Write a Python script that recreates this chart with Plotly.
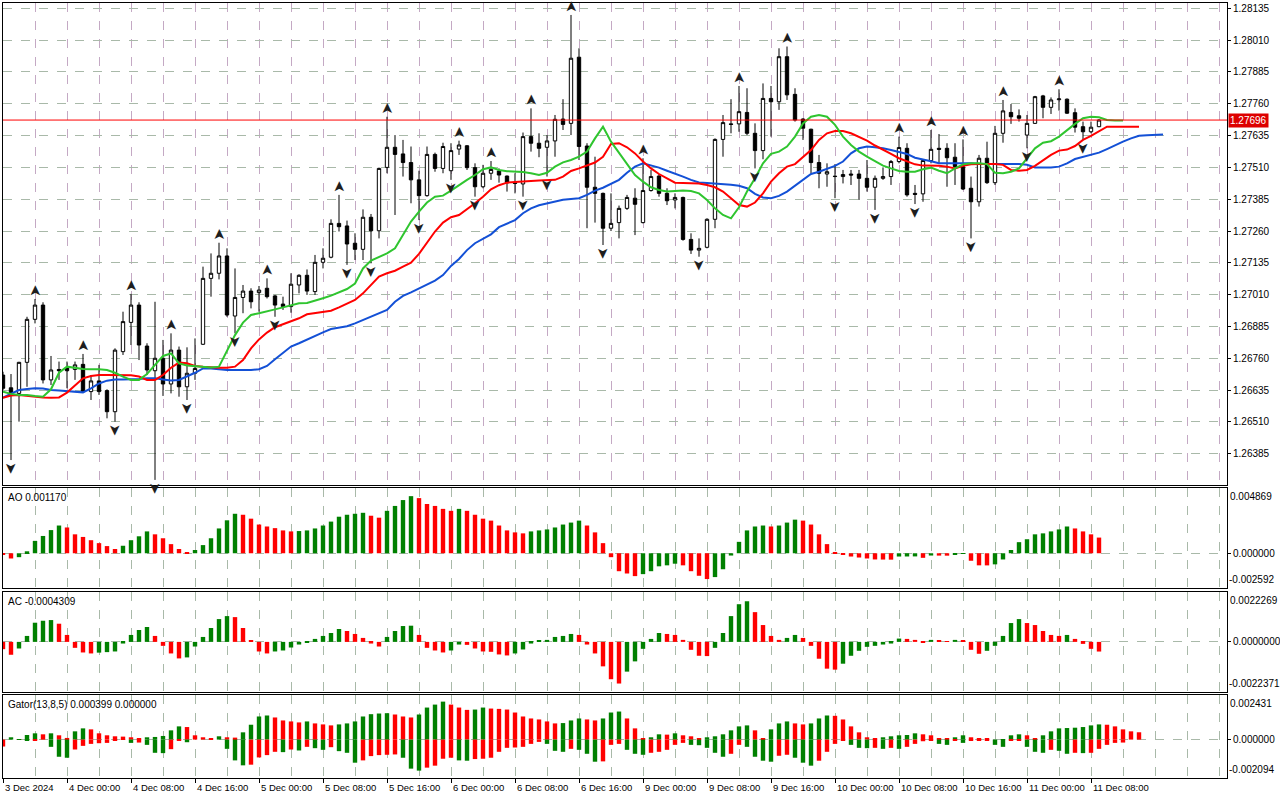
import plotly.graph_objects as go

# ---------------- data (hourly bars, GBPUSD-like) ----------------
time_labels = ["3 Dec 2024", "4 Dec 00:00", "4 Dec 08:00", "4 Dec 16:00", "5 Dec 00:00",
               "5 Dec 08:00", "5 Dec 16:00", "6 Dec 00:00", "6 Dec 08:00", "6 Dec 16:00",
               "9 Dec 00:00", "9 Dec 08:00", "9 Dec 16:00", "10 Dec 00:00", "10 Dec 08:00",
               "10 Dec 16:00", "11 Dec 00:00", "11 Dec 08:00"]
bars_per_label = 8

price_ticks = [1.28135, 1.28010, 1.27885, 1.27760, 1.27635, 1.27510, 1.27385, 1.27260,
               1.27135, 1.27010, 1.26885, 1.26760, 1.26635, 1.26510, 1.26385]
last_price = 1.27696

opens = [1.26694, 1.26644, 1.26622, 1.26744, 1.26913, 1.26969, 1.26675, 1.26716, 1.26723, 1.26716,
         1.26736, 1.26629, 1.26671, 1.26633, 1.26550, 1.26786, 1.26901, 1.26969, 1.26808, 1.26711,
         1.26760, 1.26659, 1.26792, 1.26648, 1.26701, 1.26815, 1.27074, 1.27094, 1.27162, 1.26926,
         1.26999, 1.27024, 1.27018, 1.27035, 1.27005, 1.26973, 1.26963, 1.27048, 1.27086, 1.27022,
         1.27137, 1.27157, 1.27290, 1.27280, 1.27212, 1.27188, 1.27314, 1.27261, 1.27510, 1.27589,
         1.27563, 1.27529, 1.27461, 1.27399, 1.27561, 1.27506, 1.27497, 1.27582, 1.27595, 1.27509,
         1.27434, 1.27487, 1.27496, 1.27476, 1.27450, 1.27445, 1.27631, 1.27605, 1.27589, 1.27614,
         1.27700, 1.27683, 1.27943, 1.27594, 1.27432, 1.27408, 1.27271, 1.27293, 1.27349, 1.27389,
         1.27293, 1.27419, 1.27476, 1.27408, 1.27382, 1.27392, 1.27227, 1.27185, 1.27196, 1.27306,
         1.27620, 1.27681, 1.27681, 1.27726, 1.27644, 1.27576, 1.27781, 1.27768, 1.27945, 1.27797,
         1.27700, 1.27660, 1.27529, 1.27484, 1.27474, 1.27474, 1.27484, 1.27484, 1.27467, 1.27432,
         1.27467, 1.27474, 1.27533, 1.27585, 1.27408, 1.27406, 1.27537, 1.27585, 1.27585, 1.27550,
         1.27513, 1.27428, 1.27375, 1.27546, 1.27450, 1.27644, 1.27726, 1.27713, 1.27637, 1.27683,
         1.27791, 1.27746, 1.27776, 1.27778, 1.27725, 1.27670, 1.27650, 1.27670]
highs = [1.26707, 1.26698, 1.26746, 1.26923, 1.26993, 1.26980, 1.26769, 1.26747, 1.26747, 1.26747,
         1.26777, 1.26694, 1.26734, 1.26638, 1.26799, 1.26943, 1.27013, 1.26980, 1.26819, 1.26982,
         1.26832, 1.26858, 1.26806, 1.26803, 1.26838, 1.27120, 1.27172, 1.27214, 1.27192, 1.27113,
         1.27048, 1.27035, 1.27044, 1.27074, 1.27009, 1.27002, 1.27094, 1.27090, 1.27109, 1.27166,
         1.27192, 1.27306, 1.27402, 1.27301, 1.27251, 1.27345, 1.27327, 1.27509, 1.27709, 1.27637,
         1.27618, 1.27592, 1.27497, 1.27592, 1.27568, 1.27607, 1.27605, 1.27615, 1.27598, 1.27526,
         1.27520, 1.27535, 1.27506, 1.27478, 1.27487, 1.27647, 1.27742, 1.27644, 1.27637, 1.27716,
         1.27778, 1.28109, 1.27978, 1.27605, 1.27552, 1.27411, 1.27408, 1.27360, 1.27402, 1.27428,
         1.27546, 1.27500, 1.27484, 1.27428, 1.27408, 1.27395, 1.27251, 1.27231, 1.27310, 1.27624,
         1.27716, 1.27778, 1.27830, 1.27821, 1.27683, 1.27840, 1.27830, 1.27978, 1.27985, 1.27821,
         1.27703, 1.27662, 1.27559, 1.27526, 1.27523, 1.27500, 1.27500, 1.27500, 1.27539, 1.27478,
         1.27510, 1.27539, 1.27631, 1.27605, 1.27441, 1.27539, 1.27657, 1.27641, 1.27605, 1.27605,
         1.27620, 1.27474, 1.27559, 1.27611, 1.27673, 1.27775, 1.27759, 1.27738, 1.27716, 1.27791,
         1.27795, 1.27785, 1.27817, 1.27781, 1.27742, 1.27690, 1.27690, 1.27700]
lows = [1.26635, 1.26360, 1.26511, 1.26648, 1.26897, 1.26661, 1.26655, 1.26675, 1.26642, 1.26675,
        1.26625, 1.26596, 1.26616, 1.26524, 1.26511, 1.26773, 1.26812, 1.26753, 1.26694, 1.26282,
        1.26612, 1.26622, 1.26609, 1.26596, 1.26675, 1.26812, 1.27002, 1.27070, 1.26923, 1.26858,
        1.26937, 1.26956, 1.26943, 1.26995, 1.26923, 1.26950, 1.26939, 1.27015, 1.27009, 1.27009,
        1.27113, 1.27153, 1.27258, 1.27127, 1.27146, 1.27146, 1.27133, 1.27231, 1.27487, 1.27323,
        1.27474, 1.27369, 1.27303, 1.27395, 1.27493, 1.27487, 1.27461, 1.27559, 1.27500, 1.27395,
        1.27428, 1.27461, 1.27450, 1.27415, 1.27408, 1.27395, 1.27572, 1.27550, 1.27474, 1.27552,
        1.27657, 1.27637, 1.27539, 1.27271, 1.27293, 1.27205, 1.27260, 1.27231, 1.27343, 1.27244,
        1.27290, 1.27415, 1.27395, 1.27362, 1.27349, 1.27222, 1.27170, 1.27159, 1.27192, 1.27271,
        1.27552, 1.27644, 1.27650, 1.27637, 1.27506, 1.27542, 1.27631, 1.27736, 1.27775, 1.27690,
        1.27618, 1.27487, 1.27428, 1.27434, 1.27389, 1.27447, 1.27441, 1.27382, 1.27415, 1.27343,
        1.27461, 1.27441, 1.27526, 1.27395, 1.27366, 1.27375, 1.27526, 1.27526, 1.27434, 1.27441,
        1.27421, 1.27231, 1.27356, 1.27445, 1.27441, 1.27607, 1.27681, 1.27690, 1.27585, 1.27681,
        1.27703, 1.27720, 1.27733, 1.27720, 1.27647, 1.27618, 1.27644, 1.27668]
closes = [1.26642, 1.26622, 1.26744, 1.26913, 1.26969, 1.26675, 1.26714, 1.26711, 1.26711, 1.26734,
          1.26629, 1.26671, 1.26629, 1.26550, 1.26792, 1.26904, 1.26969, 1.26812, 1.26714, 1.26760,
          1.26659, 1.26792, 1.26648, 1.26701, 1.26720, 1.27074, 1.27094, 1.27162, 1.26930, 1.26999,
          1.27024, 1.26982, 1.27028, 1.27002, 1.26969, 1.26963, 1.27051, 1.27086, 1.27024, 1.27137,
          1.27153, 1.27290, 1.27277, 1.27209, 1.27188, 1.27314, 1.27261, 1.27506, 1.27589, 1.27561,
          1.27529, 1.27461, 1.27399, 1.27561, 1.27506, 1.27592, 1.27576, 1.27598, 1.27509, 1.27434,
          1.27487, 1.27502, 1.27480, 1.27450, 1.27447, 1.27631, 1.27605, 1.27585, 1.27614, 1.27699,
          1.27679, 1.27939, 1.27592, 1.27432, 1.27408, 1.27271, 1.27290, 1.27349, 1.27392, 1.27365,
          1.27419, 1.27474, 1.27408, 1.27379, 1.27392, 1.27227, 1.27185, 1.27192, 1.27306, 1.27620,
          1.27686, 1.27679, 1.27729, 1.27644, 1.27576, 1.27781, 1.27768, 1.27945, 1.27795, 1.27696,
          1.27664, 1.27529, 1.27487, 1.27493, 1.27475, 1.27482, 1.27480, 1.27467, 1.27432, 1.27467,
          1.27474, 1.27533, 1.27588, 1.27402, 1.27404, 1.27537, 1.27581, 1.27581, 1.27548, 1.27513,
          1.27425, 1.27375, 1.27546, 1.27450, 1.27644, 1.27732, 1.27709, 1.27703, 1.27683, 1.27788,
          1.27746, 1.27775, 1.27779, 1.27723, 1.27668, 1.27650, 1.27668, 1.27696]

# Alligator (already shifted forward: jaw +8, teeth +5, lips +3)
jaw = [1.26605, 1.26620, 1.26635, 1.26639, 1.26642, 1.26641, 1.26635, 1.26633, 1.26631, 1.26629,
       1.26626, 1.26642, 1.26661, 1.26672, 1.26677, 1.26677, 1.26677, 1.26679, 1.26681, 1.26681,
       1.26677, 1.26673, 1.26675, 1.26688, 1.26703, 1.26720, 1.26720, 1.26717, 1.26714, 1.26714,
       1.26714, 1.26714, 1.26717, 1.26730, 1.26756, 1.26782, 1.26806, 1.26819, 1.26834, 1.26849,
       1.26862, 1.26875, 1.26882, 1.26886, 1.26897, 1.26910, 1.26921, 1.26934, 1.26950, 1.26982,
       1.27005, 1.27019, 1.27034, 1.27048, 1.27065, 1.27087, 1.27123, 1.27150, 1.27185, 1.27212,
       1.27230, 1.27247, 1.27275, 1.27288, 1.27303, 1.27330, 1.27349, 1.27361, 1.27369, 1.27377,
       1.27383, 1.27386, 1.27389, 1.27402, 1.27419, 1.27430, 1.27445, 1.27461, 1.27489, 1.27513,
       1.27526, 1.27518, 1.27509, 1.27497, 1.27487, 1.27474, 1.27461, 1.27451, 1.27449, 1.27447,
       1.27445, 1.27442, 1.27438, 1.27428, 1.27406, 1.27392, 1.27389, 1.27398, 1.27415, 1.27437,
       1.27461, 1.27484, 1.27493, 1.27503, 1.27516, 1.27533, 1.27565, 1.27585, 1.27592, 1.27589,
       1.27585, 1.27578, 1.27572, 1.27563, 1.27548, 1.27542, 1.27534, 1.27526, 1.27526, 1.27526,
       1.27526, 1.27526, 1.27523, 1.27522, 1.27523, 1.27523, 1.27523, 1.27523, 1.27520, 1.27510,
       1.27510, 1.27510, 1.27513, 1.27526, 1.27543, 1.27552, 1.27559, 1.27568, 1.27582, 1.27598,
       1.27611, 1.27624, 1.27634, 1.27636, 1.27637, 1.27639]
teeth = [1.26605, 1.26614, 1.26616, 1.26612, 1.26609, 1.26606, 1.26605, 1.26606, 1.26625, 1.26655,
         1.26681, 1.26690, 1.26694, 1.26694, 1.26694, 1.26694, 1.26693, 1.26688, 1.26675, 1.26675,
         1.26694, 1.26723, 1.26743, 1.26740, 1.26730, 1.26727, 1.26724, 1.26723, 1.26723, 1.26727,
         1.26753, 1.26799, 1.26834, 1.26861, 1.26882, 1.26893, 1.26904, 1.26917, 1.26933, 1.26937,
         1.26941, 1.26947, 1.26960, 1.26973, 1.26989, 1.27015, 1.27048, 1.27081, 1.27094, 1.27104,
         1.27120, 1.27136, 1.27170, 1.27214, 1.27258, 1.27293, 1.27314, 1.27323, 1.27345, 1.27369,
         1.27395, 1.27424, 1.27440, 1.27450, 1.27453, 1.27454, 1.27457, 1.27459, 1.27461, 1.27461,
         1.27474, 1.27496, 1.27506, 1.27516, 1.27529, 1.27552, 1.27602, 1.27605, 1.27589, 1.27565,
         1.27533, 1.27506, 1.27484, 1.27467, 1.27450, 1.27449, 1.27447, 1.27447, 1.27441, 1.27432,
         1.27415, 1.27389, 1.27362, 1.27356, 1.27372, 1.27408, 1.27454, 1.27487, 1.27513, 1.27523,
         1.27550, 1.27578, 1.27618, 1.27644, 1.27653, 1.27653, 1.27644, 1.27631, 1.27615, 1.27596,
         1.27578, 1.27563, 1.27546, 1.27533, 1.27522, 1.27517, 1.27517, 1.27516, 1.27513, 1.27506,
         1.27516, 1.27522, 1.27523, 1.27523, 1.27523, 1.27520, 1.27500, 1.27497, 1.27500, 1.27516,
         1.27537, 1.27559, 1.27576, 1.27580, 1.27594, 1.27618, 1.27634, 1.27653, 1.27670, 1.27670,
         1.27670, 1.27670, 1.27670]
lips = [1.26629, 1.26620, 1.26616, 1.26616, 1.26612, 1.26609, 1.26638, 1.26703, 1.26727, 1.26723,
        1.26718, 1.26717, 1.26717, 1.26714, 1.26703, 1.26688, 1.26675, 1.26675, 1.26698, 1.26734,
        1.26769, 1.26779, 1.26740, 1.26732, 1.26730, 1.26727, 1.26724, 1.26727, 1.26792, 1.26851,
        1.26900, 1.26930, 1.26937, 1.26943, 1.26952, 1.26960, 1.26969, 1.26976, 1.26977, 1.26985,
        1.26996, 1.27006, 1.27018, 1.27032, 1.27054, 1.27113, 1.27144, 1.27159, 1.27172, 1.27192,
        1.27244, 1.27297, 1.27336, 1.27372, 1.27395, 1.27399, 1.27419, 1.27441, 1.27461, 1.27480,
        1.27503, 1.27510, 1.27500, 1.27495, 1.27493, 1.27492, 1.27487, 1.27480, 1.27489, 1.27513,
        1.27530, 1.27539, 1.27552, 1.27572, 1.27624, 1.27670, 1.27611, 1.27568, 1.27526, 1.27480,
        1.27454, 1.27432, 1.27421, 1.27415, 1.27417, 1.27419, 1.27417, 1.27408, 1.27382, 1.27349,
        1.27323, 1.27310, 1.27353, 1.27415, 1.27467, 1.27526, 1.27563, 1.27572, 1.27592, 1.27631,
        1.27683, 1.27709, 1.27716, 1.27709, 1.27677, 1.27631, 1.27598, 1.27572, 1.27552, 1.27533,
        1.27517, 1.27506, 1.27496, 1.27493, 1.27493, 1.27503, 1.27509, 1.27497, 1.27487, 1.27506,
        1.27522, 1.27526, 1.27526, 1.27523, 1.27489, 1.27487, 1.27493, 1.27506, 1.27546, 1.27585,
        1.27607, 1.27613, 1.27631, 1.27657, 1.27681, 1.27703, 1.27709, 1.27707, 1.27696, 1.27694,
        1.27694]

# Bill Williams fractals (bar indices)
fractal_up_bars = [4, 10, 16, 21, 27, 33, 42, 48, 57, 61, 66, 71, 80, 92, 98, 112, 116, 120, 125, 132]
fractal_down_bars = [1, 14, 19, 23, 29, 34, 43, 46, 52, 56, 59, 65, 68, 75, 87, 94, 104, 109, 114,
                     121, 128, 135]

ao = [-0.000073, -0.000390, -0.000292, 0.000146, 0.000925, 0.001291, 0.001729, 0.002070, 0.001924, 0.001412,
      0.001218, 0.000974, 0.000755, 0.000536, 0.000317, 0.000560, 0.000974, 0.001266, 0.001631, 0.001412,
      0.001120, 0.000682, 0.000317, 0.000024, 0.000244, 0.000609, 0.001120, 0.001851, 0.002459, 0.002946,
      0.002873, 0.002581, 0.002143, 0.001997, 0.001875, 0.001705, 0.001631, 0.001656, 0.001705, 0.001851,
      0.002070, 0.002362, 0.002727, 0.002873, 0.002946, 0.003019, 0.002800, 0.002654, 0.003166, 0.003531,
      0.003969, 0.004261, 0.004115, 0.003677, 0.003531, 0.003312, 0.003166, 0.003312, 0.003166, 0.002873,
      0.002581, 0.002435, 0.002070, 0.001705, 0.001558, 0.001485, 0.001631, 0.001705, 0.001778, 0.001924,
      0.002143, 0.002289, 0.002435, 0.002070, 0.001558, 0.000755, -0.000292, -0.001339, -0.001510, -0.001705,
      -0.001558, -0.001339, -0.000974, -0.000901, -0.000779, -0.000901, -0.001339, -0.001680, -0.001924, -0.001778,
      -0.001193, -0.000170, 0.000852, 0.001705, 0.001997, 0.002070, 0.001997, 0.002070, 0.002289, 0.002508,
      0.002435, 0.002143, 0.001412, 0.000682, 0.000097, -0.000097, -0.000244, -0.000317, -0.000390, -0.000463,
      -0.000470, -0.000477, -0.000244, -0.000240, -0.000235, -0.000341, -0.000170, -0.000175, -0.000180, -0.000097,
      -0.000049, -0.000560, -0.000901, -0.000905, -0.000828, -0.000463, 0.000244, 0.000828, 0.001047, 0.001412,
      0.001485, 0.001631, 0.001778, 0.001997, 0.001851, 0.001631, 0.001412, 0.001170]

ac = [-0.000325, -0.000575, -0.000295, 0.000266, 0.000856, 0.000944, 0.000974, 0.000811, 0.000310, -0.000266,
      -0.000472, -0.000516, -0.000480, -0.000457, -0.000428, -0.000074, 0.000310, 0.000531, 0.000664, 0.000266,
      -0.000177, -0.000516, -0.000738, -0.000693, -0.000207, 0.000221, 0.000620, 0.001018, 0.001151, 0.001106,
      0.000620, 0.000044, -0.000428, -0.000516, -0.000428, -0.000384, -0.000251, -0.000118, -0.000044, 0.000133,
      0.000266, 0.000398, 0.000575, 0.000487, 0.000354, 0.000177, -0.000074, -0.000207, 0.000221, 0.000487,
      0.000708, 0.000723, 0.000310, -0.000266, -0.000384, -0.000472, -0.000384, -0.000118, -0.000133, -0.000295,
      -0.000428, -0.000443, -0.000561, -0.000605, -0.000516, -0.000339, -0.000074, 0.000044, 0.000089, 0.000221,
      0.000266, 0.000354, 0.000310, -0.000118, -0.000516, -0.001092, -0.001667, -0.001859, -0.001328, -0.000870,
      -0.000310, 0.000133, 0.000398, 0.000354, 0.000310, 0.000089, -0.000354, -0.000620, -0.000634, -0.000266,
      0.000398, 0.001151, 0.001682, 0.001814, 0.001328, 0.000752, 0.000266, 0.000089, 0.000177, 0.000310,
      0.000177, -0.000177, -0.000752, -0.001195, -0.001239, -0.000974, -0.000620, -0.000398, -0.000221, -0.000177,
      -0.000118, -0.000074, 0.000148, 0.000133, 0.000089, -0.000015, 0.000089, 0.000044, 0.000015, 0.000089,
      0.000074, -0.000354, -0.000531, -0.000398, -0.000177, 0.000266, 0.000841, 0.001018, 0.000841, 0.000752,
      0.000487, 0.000310, 0.000266, 0.000310, 0.000133, -0.000089, -0.000310, -0.0004309]

gator_upper = [0.000000, 0.000126, 0.000018, 0.000252, 0.000342, 0.000288, 0.000342, 0.000234, 0.000090, 0.000450,
               0.000612, 0.000558, 0.000342, 0.000234, 0.000180, 0.000162, 0.000126, 0.000054, 0.000126, 0.000144,
               0.000198, 0.000504, 0.000720, 0.000684, 0.000234, 0.000126, 0.000072, 0.000180, 0.000126, 0.000108,
               0.000396, 0.000810, 0.001260, 0.001314, 0.001206, 0.001044, 0.000990, 0.000936, 0.000990, 0.000882,
               0.000828, 0.000774, 0.000828, 0.000882, 0.000990, 0.001260, 0.001386, 0.001422, 0.001440, 0.001368,
               0.001260, 0.001206, 0.001368, 0.001746, 0.001908, 0.002070, 0.001908, 0.001746, 0.001620, 0.001638,
               0.001746, 0.001692, 0.001674, 0.001638, 0.001476, 0.001260, 0.001152, 0.001098, 0.000990, 0.000882,
               0.000900, 0.001044, 0.001152, 0.001098, 0.001044, 0.001152, 0.001476, 0.001530, 0.001152, 0.000612,
               0.000072, 0.000126, 0.000288, 0.000270, 0.000342, 0.000234, 0.000180, 0.000072, 0.000126, 0.000180,
               0.000288, 0.000504, 0.000720, 0.000774, 0.000504, 0.000054, 0.000558, 0.000882, 0.000990, 0.000882,
               0.000828, 0.000882, 0.001152, 0.001314, 0.001296, 0.001098, 0.000720, 0.000396, 0.000126, 0.000072,
               0.000126, 0.000180, 0.000234, 0.000252, 0.000342, 0.000288, 0.000234, 0.000072, 0.000054, 0.000126,
               0.000234, 0.000126, 0.000072, 0.000054, 0.000000, 0.000018, 0.000234, 0.000288, 0.000234, 0.000072,
               0.000234, 0.000450, 0.000612, 0.000630, 0.000648, 0.000684, 0.000774, 0.000828, 0.000810, 0.000720,
               0.000558, 0.000450, 0.000399]
gator_lower = [-0.000378, 0.000000, -0.000018, -0.000036, -0.000036, 0.000000, -0.000396, -0.000936, -0.000990, -0.000540,
               -0.000342, -0.000234, -0.000198, -0.000180, -0.000072, -0.000018, -0.000180, -0.000162, -0.000288, -0.000720,
               -0.000738, -0.000522, -0.000036, -0.000144, 0.000000, 0.000000, 0.000000, 0.000000, -0.000504, -0.001134,
               -0.001404, -0.001368, -0.000972, -0.000846, -0.000666, -0.000684, -0.000540, -0.000594, -0.000396, -0.000468,
               -0.000558, -0.000414, -0.000630, -0.000720, -0.001260, -0.001134, -0.000900, -0.000846, -0.000828, -0.000810,
               -0.000990, -0.001584, -0.001692, -0.001530, -0.001422, -0.001044, -0.000990, -0.001134, -0.001152, -0.001062,
               -0.001044, -0.000990, -0.000666, -0.000450, -0.000432, -0.000396, -0.000234, -0.000126, -0.000234, -0.000612,
               -0.000666, -0.000504, -0.000558, -0.000774, -0.001206, -0.001188, -0.000288, -0.000234, -0.000558, -0.000774,
               -0.000828, -0.000720, -0.000666, -0.000558, -0.000288, -0.000180, -0.000288, -0.000306, -0.000450, -0.000720,
               -0.000936, -0.000774, -0.000288, -0.000396, -0.000936, -0.001152, -0.001206, -0.000882, -0.000828, -0.000990,
               -0.001260, -0.001422, -0.001152, -0.000666, -0.000234, -0.000072, -0.000288, -0.000450, -0.000468, -0.000450,
               -0.000504, -0.000450, -0.000504, -0.000396, -0.000234, -0.000090, -0.000036, -0.000234, -0.000288, -0.000036,
               -0.000180, -0.000072, -0.000054, -0.000036, -0.000288, -0.000396, -0.000072, -0.000054, -0.000396, -0.000666,
               -0.000720, -0.000558, -0.000612, -0.000774, -0.000720, -0.000738, -0.000720, -0.000504, -0.000288, -0.000180,
               -0.000162]

ao_range = [-0.002592, 0.004869]
ac_range = [-0.0022371, 0.0022269]
gator_range = [-0.002094, 0.002431]
panel_titles = ["AO 0.001170", "AC -0.0004309", "Gator(13,8,5) 0.000399 0.000000"]
panel_edge_labels = [("0.004869", "-0.002592", "0.000000"),
                     ("0.0022269", "-0.0022371", "0.0000000"),
                     ("0.002431", "-0.002094", "0.000000")]

# ---------------- styling ----------------
GREEN = "#008000"
RED = "#ff0000"
FONT = "Liberation Sans"
VGRID_MAIN = "#c4a9c4"
HGRID = "#a9b9a9"
VGRID_SUB = "#a9b9a9"


def rising_colors(vals, use_abs=False):
    cols = []
    prev = None
    for v in vals:
        cur = abs(v) if use_abs else v
        if prev is not None and cur > prev:
            cols.append(GREEN)
        else:
            cols.append(RED)
        prev = cur
    return cols


n = len(opens)
xs = list(range(n))
x_range = [0, 153]
label_pos = [i * bars_per_label for i in range(len(time_labels))]
grid_pos = list(range(0, x_range[1] + 1, bars_per_label // 2))

fig = go.Figure()

fig.add_trace(go.Candlestick(
    x=xs, open=opens, high=highs, low=lows, close=closes,
    increasing=dict(line=dict(color="black", width=1), fillcolor="white"),
    decreasing=dict(line=dict(color="black", width=1), fillcolor="black"),
    whiskerwidth=0, hoverinfo="skip", xaxis="x", yaxis="y"))

for series, col in ((jaw, "#1350d6"), (teeth, "#ff0000"), (lips, "#2fc52f")):
    fig.add_trace(go.Scatter(x=list(range(len(series))), y=series, mode="lines",
                             line=dict(color=col, width=2), hoverinfo="skip",
                             xaxis="x", yaxis="y"))

fig.add_trace(go.Bar(x=list(range(len(ao))), y=ao, marker=dict(color=rising_colors(ao), line_width=0),
                     width=0.55, xaxis="x2", yaxis="y2", hoverinfo="skip"))
fig.add_trace(go.Bar(x=list(range(len(ac))), y=ac, marker=dict(color=rising_colors(ac), line_width=0),
                     width=0.55, xaxis="x3", yaxis="y3", hoverinfo="skip"))
fig.add_trace(go.Bar(x=list(range(len(gator_upper))), y=gator_upper,
                     marker=dict(color=rising_colors(gator_upper, True), line_width=0),
                     width=0.55, xaxis="x4", yaxis="y4", hoverinfo="skip"))
fig.add_trace(go.Bar(x=list(range(len(gator_lower))), y=gator_lower,
                     marker=dict(color=rising_colors(gator_lower, True), line_width=0),
                     width=0.55, xaxis="x4", yaxis="y4", hoverinfo="skip"))

annotations = []
# fractal arrows
ARROW_FONT = dict(size=15, color="#1e1e1e", family="DejaVu Sans")
for b in fractal_up_bars:
    annotations.append(dict(x=b, y=highs[b], xref="x", yref="y", text="➤", textangle=-90,
                            showarrow=False, yshift=8, font=ARROW_FONT))
for b in fractal_down_bars:
    annotations.append(dict(x=b, y=lows[b], xref="x", yref="y", text="➤", textangle=90,
                            showarrow=False, yshift=-8, font=ARROW_FONT))

# time labels (left aligned at tick like MT5)
for pos, lab in zip(label_pos, time_labels):
    annotations.append(dict(x=pos, y=0, xref="x4", yref="paper", text=lab, showarrow=False,
                            xanchor="left", yanchor="top", yshift=-2, xshift=0,
                            font=dict(family=FONT, size=9.5, color="black")))

# current price label
annotations.append(dict(x=1, y=last_price, xref="paper", yref="y", text=f"{last_price:.5f}",
                        showarrow=False, xanchor="left", yanchor="middle", xshift=1,
                        bgcolor="#dd0000", font=dict(family=FONT, size=10, color="white"),
                        borderpad=1))

# subpanel titles and edge labels
for i, (title, (top_lab, bot_lab, _z)) in enumerate(zip(panel_titles, panel_edge_labels)):
    ya = f"y{i + 2}"
    annotations.append(dict(x=0, y=1, xref="paper", yref=f"{ya} domain", text=title, showarrow=False,
                            xanchor="left", yanchor="top", xshift=3, yshift=-2,
                            font=dict(family=FONT, size=10, color="black")))
    annotations.append(dict(x=1, y=1, xref="paper", yref=f"{ya} domain", text=top_lab, showarrow=False,
                            xanchor="left", yanchor="top", xshift=1, yshift=-1,
                            font=dict(family=FONT, size=10, color="black")))
    annotations.append(dict(x=1, y=0, xref="paper", yref=f"{ya} domain", text=bot_lab, showarrow=False,
                            xanchor="left", yanchor="bottom", xshift=0, yshift=1,
                            font=dict(family=FONT, size=10, color="black")))

shapes = [dict(type="line", xref="x domain", yref="y", x0=0, x1=1, y0=last_price, y1=last_price,
               line=dict(color="#ff0000", width=1), layer="above")]

H_TOTAL = 775.0


def dom(top_px, bot_px):
    return [(778 - bot_px) / H_TOTAL, (778 - top_px) / H_TOTAL]


def xaxis_style(anchor, vgrid, bottom=False, match=True):
    d = dict(domain=[0, 1], anchor=anchor, range=x_range, showline=True, mirror=True,
             linecolor="black", linewidth=1, tickmode="array", tickvals=label_pos,
             showticklabels=False, showgrid=True, gridcolor=vgrid, griddash="dash", gridwidth=1,
             zeroline=False, ticks="outside" if bottom else "", ticklen=4, tickcolor="black",
             minor=dict(tickmode="array", tickvals=grid_pos, showgrid=True, gridcolor=vgrid,
                        griddash="dash", gridwidth=1, ticks=""),
             fixedrange=True)
    if match:
        d["matches"] = "x"
    return d


def yaxis_style(anchor, domain, rng, tickvals, ticktext, grid=True):
    return dict(domain=domain, anchor=anchor, side="right", range=rng, showline=True, mirror=True,
                linecolor="black", linewidth=1, tickmode="array", tickvals=tickvals, ticktext=ticktext,
                showgrid=grid, gridcolor=HGRID, griddash="dash", gridwidth=1, zeroline=False,
                ticks="outside", ticklen=3, tickcolor="black",
                tickfont=dict(family=FONT, size=10, color="black"), fixedrange=True)


fig.update_layout(
    width=1280, height=800,
    margin=dict(l=3, r=53, t=3, b=22, autoexpand=False),
    paper_bgcolor="white", plot_bgcolor="white",
    showlegend=False, hovermode=False, barmode="overlay", boxgap=0.4,
    font=dict(family=FONT, size=10, color="black"),
    xaxis=dict(**xaxis_style("y", VGRID_MAIN, match=False), rangeslider=dict(visible=False)),
    xaxis2=xaxis_style("y2", VGRID_SUB),
    xaxis3=xaxis_style("y3", VGRID_SUB),
    xaxis4=xaxis_style("y4", VGRID_SUB, bottom=True),
    yaxis=yaxis_style("x", dom(3, 485), [1.26262, 1.28156], price_ticks,
                      [f"{p:.5f}" for p in price_ticks]),
    yaxis2=yaxis_style("x2", dom(488, 588), ao_range, [0], [panel_edge_labels[0][2]]),
    yaxis3=yaxis_style("x3", dom(592, 692), ac_range, [0], [panel_edge_labels[1][2]]),
    yaxis4=yaxis_style("x4", dom(695, 778), gator_range, [0], [panel_edge_labels[2][2]]),
    annotations=annotations,
    shapes=shapes,
)

fig.write_html("out.html", config={"displayModeBar": False},
               post_script="document.body.style.margin='0';document.body.style.overflow='hidden';")
